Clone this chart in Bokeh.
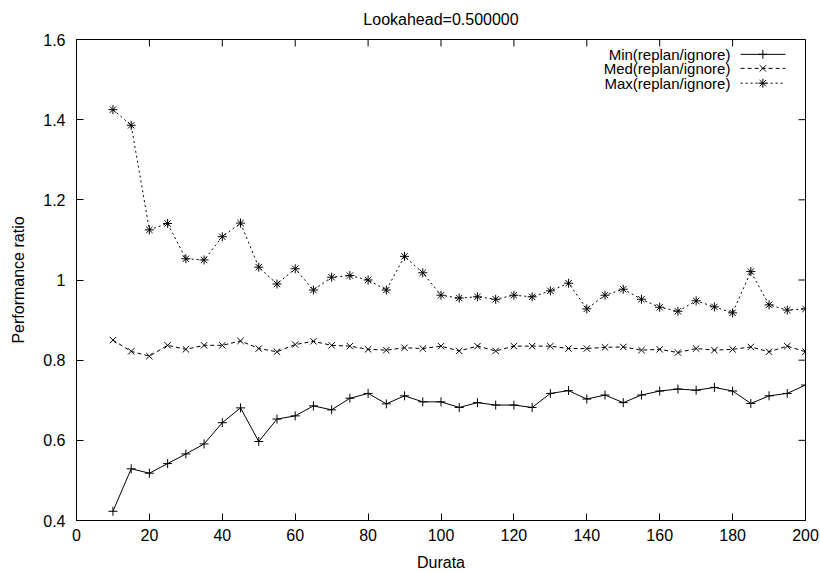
from bokeh.plotting import figure
from bokeh.models import Label, FixedTicker, Range1d
from bokeh.embed import file_html
from bokeh.resources import INLINE

# ---------------- data ----------------
durata = [10, 15, 20, 25, 30, 35, 40, 45, 50, 55, 60, 65, 70, 75, 80, 85, 90, 95, 100,
          105, 110, 115, 120, 125, 130, 135, 140, 145, 150, 155, 160, 165, 170, 175, 180,
          185, 190, 195, 200]
min_ratio = [0.423, 0.529, 0.518, 0.542, 0.566, 0.591, 0.644, 0.681, 0.597, 0.653, 0.661,
             0.686, 0.676, 0.705, 0.717, 0.691, 0.711, 0.696, 0.696, 0.682, 0.694, 0.688,
             0.688, 0.682, 0.717, 0.724, 0.703, 0.713, 0.694, 0.713, 0.723, 0.728, 0.725,
             0.732, 0.723, 0.692, 0.711, 0.717, 0.738]
med_ratio = [0.850, 0.822, 0.810, 0.837, 0.827, 0.837, 0.837, 0.848, 0.829, 0.821, 0.839,
             0.847, 0.837, 0.835, 0.827, 0.825, 0.831, 0.829, 0.835, 0.823, 0.835, 0.823,
             0.835, 0.835, 0.835, 0.829, 0.829, 0.832, 0.833, 0.825, 0.827, 0.819, 0.829,
             0.825, 0.827, 0.833, 0.821, 0.835, 0.821]
max_ratio = [1.425, 1.386, 1.125, 1.141, 1.053, 1.050, 1.108, 1.142, 1.032, 0.990, 1.028,
             0.975, 1.007, 1.011, 1.000, 0.975, 1.059, 1.018, 0.962, 0.955, 0.958, 0.952,
             0.962, 0.958, 0.973, 0.992, 0.928, 0.962, 0.977, 0.952, 0.932, 0.922, 0.948,
             0.933, 0.918, 1.021, 0.938, 0.925, 0.928]

x_ticks = [0, 20, 40, 60, 80, 100, 120, 140, 160, 180, 200]
y_ticks = [0.4, 0.6, 0.8, 1.0, 1.2, 1.4, 1.6]
y_tick_labels = ["0.4", "0.6", "0.8", "1", "1.2", "1.4", "1.6"]
series_names = ["Min(replan/ignore)", "Med(replan/ignore)", "Max(replan/ignore)"]
title_text = "Lookahead=0.500000"
x_label = "Durata"
y_label = "Performance ratio"

# ---------------- style / layout ----------------
FONT = "Liberation Sans"
FS = "16px"
LEG_FS = "15px"
X_MIN, X_MAX = 0, 200
Y_MIN, Y_MAX = 0.4, 1.6
W, H = 820, 573
BL, BR, BT, BB = 76, 15, 38, 52
FRAME_W = W - BL - BR
FRAME_H = H - BT - BB
TICK_PX = 7

series = [
    (min_ratio, "solid", "cross"),
    (med_ratio, "4 3", "x"),
    (max_ratio, "2 3", "asterisk"),
]
# legend layout (data units)
LEG_TEXT_X = 179.4
LEG_LINE_X0 = 182.2
LEG_LINE_X1 = 194.5
LEG_MARK_X = 188.3
LEG_ROWS_Y = [1.563, 1.528, 1.491]

p = figure(width=W, height=H,
           x_range=Range1d(X_MIN, X_MAX), y_range=Range1d(Y_MIN, Y_MAX),
           output_backend="svg", toolbar_location=None,
           min_border_left=BL, min_border_right=BR,
           min_border_top=BT, min_border_bottom=BB)
p.grid.visible = False
p.outline_line_color = "black"
p.outline_line_width = 1
p.background_fill_color = "white"
p.border_fill_color = "white"

p.title.text = title_text
p.title.align = "center"
p.title.vertical_align = "top"
p.title.text_font = FONT
p.title.text_font_size = FS
p.title.text_font_style = "normal"
p.title.text_color = "black"
p.title.standoff = 20

xax = p.xaxis[0]
yax = p.yaxis[0]
xax.ticker = FixedTicker(ticks=x_ticks, minor_ticks=[])
yax.ticker = FixedTicker(ticks=y_ticks, minor_ticks=[])

for ax in [xax, yax]:
    ax.major_tick_in = TICK_PX
    ax.major_tick_out = 0
    ax.minor_tick_in = 0
    ax.minor_tick_out = 0
    ax.axis_line_color = "black"
    ax.major_tick_line_color = "black"
    ax.major_label_text_font = FONT
    ax.major_label_text_font_size = FS
    ax.major_label_text_color = "black"
    ax.axis_label_text_font = FONT
    ax.axis_label_text_font_size = FS
    ax.axis_label_text_font_style = "normal"
    ax.axis_label_text_color = "black"

yax.major_label_overrides = {t: l for t, l in zip(y_ticks, y_tick_labels)}
yax.major_label_standoff = 11
yax.axis_label = y_label
yax.axis_label_standoff = 13
xax.major_label_standoff = 8
xax.axis_label = x_label
xax.axis_label_standoff = 10

# mirrored ticks on top and right edges (gnuplot style)
ty = TICK_PX * (Y_MAX - Y_MIN) / FRAME_H
tx = TICK_PX * (X_MAX - X_MIN) / FRAME_W
p.segment(x0=x_ticks, y0=[Y_MAX] * len(x_ticks), x1=x_ticks,
          y1=[Y_MAX - ty] * len(x_ticks), line_color="black", line_width=1)
p.segment(x0=[X_MAX] * len(y_ticks), y0=y_ticks, x1=[X_MAX - tx] * len(y_ticks),
          y1=y_ticks, line_color="black", line_width=1)

for vals, dash, marker in series:
    p.line(durata, vals, line_color="black", line_width=1, line_dash=dash)
    p.scatter(durata, vals, marker=marker, size=9, line_color="black",
              fill_color="black", line_width=1)

# legend (gnuplot style: text then sample)
for name, (vals, dash, marker), ly in zip(series_names, series, LEG_ROWS_Y):
    p.add_layout(Label(x=LEG_TEXT_X, y=ly, text=name, text_align="right",
                       text_baseline="middle", text_font=FONT, text_font_size=LEG_FS,
                       text_color="black"))
    p.line([LEG_LINE_X0, LEG_LINE_X1], [ly, ly], line_color="black", line_width=1,
           line_dash=dash)
    p.scatter([LEG_MARK_X], [ly], marker=marker, size=9, line_color="black",
              fill_color="black", line_width=1)

open("out.html", "w").write(file_html(p, INLINE))
